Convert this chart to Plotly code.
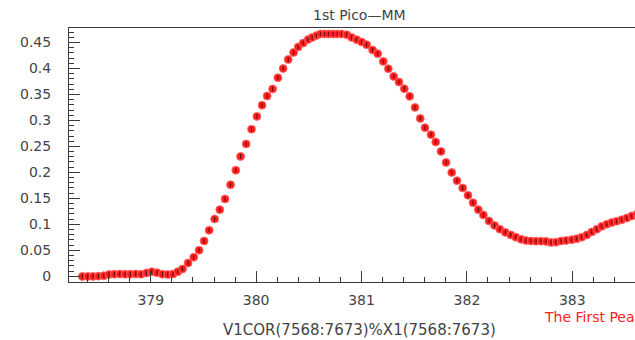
import plotly.graph_objects as go

# Scan of the first peak: corrected voltage (V1COR) against X1, channels 7568-7673
x_values = [
    378.351, 378.402, 378.452, 378.503, 378.554, 378.604, 378.655, 378.706,
    378.756, 378.807, 378.858, 378.908, 378.959, 379.010, 379.060, 379.111,
    379.161, 379.212, 379.256, 379.301, 379.354, 379.408, 379.458, 379.506,
    379.554, 379.606, 379.655, 379.705, 379.757, 379.807, 379.852, 379.905,
    379.956, 380.007, 380.056, 380.104, 380.156, 380.206, 380.256, 380.304,
    380.355, 380.399, 380.446, 380.494, 380.532, 380.574, 380.612, 380.652,
    380.690, 380.731, 380.771, 380.811, 380.859, 380.906, 380.954, 381.001,
    381.048, 381.105, 381.153, 381.206, 381.254, 381.305, 381.355, 381.406,
    381.457, 381.507, 381.557, 381.602, 381.659, 381.704, 381.754, 381.802,
    381.856, 381.906, 381.960, 382.010, 382.058, 382.108, 382.156, 382.210,
    382.262, 382.312, 382.365, 382.417, 382.464, 382.514, 382.561, 382.609,
    382.656, 382.704, 382.751, 382.799, 382.846, 382.894, 382.941, 382.995,
    383.043, 383.090, 383.138, 383.185, 383.233, 383.280, 383.328, 383.375,
    383.423, 383.470, 383.518, 383.565, 383.613,
]
y_values = [
    0.0000, 0.0000, 0.0000, 0.0004, 0.0013, 0.0037, 0.0042, 0.0046,
    0.0042, 0.0042, 0.0046, 0.0042, 0.0065, 0.0090, 0.0071, 0.0042,
    0.0037, 0.0046, 0.0090, 0.0144, 0.0258, 0.0369, 0.0504, 0.0681,
    0.0888, 0.1104, 0.1283, 0.1488, 0.1763, 0.2042, 0.2306, 0.2548,
    0.2831, 0.3077, 0.3292, 0.3469, 0.3606, 0.3821, 0.3998, 0.4171,
    0.4308, 0.4413, 0.4488, 0.4558, 0.4596, 0.4635, 0.4662, 0.4662,
    0.4662, 0.4662, 0.4662, 0.4662, 0.4648, 0.4596, 0.4552, 0.4508,
    0.4456, 0.4354, 0.4283, 0.4135, 0.3994, 0.3846, 0.3738, 0.3610,
    0.3462, 0.3250, 0.3038, 0.2860, 0.2725, 0.2585, 0.2404, 0.2192,
    0.1998, 0.1840, 0.1700, 0.1558, 0.1417, 0.1283, 0.1181, 0.1067,
    0.0979, 0.0908, 0.0846, 0.0796, 0.0754, 0.0712, 0.0690, 0.0681,
    0.0677, 0.0677, 0.0673, 0.0654, 0.0658, 0.0681, 0.0690, 0.0706,
    0.0725, 0.0754, 0.0796, 0.0856, 0.0908, 0.0962, 0.1004, 0.1037,
    0.1062, 0.1090, 0.1123, 0.1162, 0.1196,
]

title_text = "1st Pico—MM"
x_title = "V1COR(7568:7673)%X1(7568:7673)"
legend_text = "The First Peak"

x_range = [378.224, 383.595]
y_range = [-0.0108, 0.4777]

axis_color = "#3a3a3a"
label_font = dict(family="DejaVu Sans", size=14, color="#444444")

fig = go.Figure()

# red filled circles
fig.add_trace(go.Scatter(
    x=x_values, y=y_values, mode="markers",
    marker=dict(symbol="circle", size=8, color="rgb(255,30,30)",
                line=dict(width=0.8, color="rgba(255,110,110,1)")),
    hoverinfo="x+y", showlegend=False,
))
# small dark centre mark on each point
fig.add_trace(go.Scatter(
    x=x_values, y=y_values, mode="markers",
    marker=dict(symbol="line-ns", size=3,
                line=dict(width=1, color="rgba(40,0,0,0.8)")),
    hoverinfo="skip", showlegend=False,
))

fig.update_layout(
    width=635, height=340,
    margin=dict(l=69, r=0, t=28, b=58),
    paper_bgcolor="white", plot_bgcolor="white",
    font=label_font,
    xaxis=dict(
        range=x_range, showgrid=False, zeroline=False,
        showline=True, linecolor=axis_color, linewidth=1, mirror=True,
        ticks="inside", ticklen=11, tickwidth=1, tickcolor=axis_color,
        dtick=1, tick0=379, ticklabelstandoff=5,
        minor=dict(ticks="inside", ticklen=5, dtick=0.2, tick0=379,
                   tickcolor=axis_color, showgrid=False),
        tickfont=label_font,
    ),
    yaxis=dict(
        range=y_range, showgrid=False, zeroline=False,
        showline=True, linecolor=axis_color, linewidth=1,
        ticks="inside", ticklen=11, tickwidth=1, tickcolor=axis_color,
        dtick=0.05, tick0=0, ticklabelstandoff=14,
        minor=dict(ticks="inside", ticklen=5, dtick=0.01, tick0=0,
                   tickcolor=axis_color, showgrid=False),
        tickfont=label_font,
    ),
    annotations=[
        dict(text=title_text, xref="paper", yref="paper", x=0.514, y=1.051,
             xanchor="center", yanchor="middle", showarrow=False,
             font=dict(family="DejaVu Sans", size=14, color="#444444")),
        dict(text=x_title, xref="paper", yref="paper", x=0.513, y=-0.189,
             xanchor="center", yanchor="middle", showarrow=False,
             font=dict(family="DejaVu Sans", size=15, color="#444444")),
        dict(text=legend_text, xref="paper", yref="paper", x=0.836, y=-0.1366,
             xanchor="left", yanchor="middle", showarrow=False,
             font=dict(family="DejaVu Sans", size=14, color="#ff2020")),
    ],
)

fig.write_html("out.html")
